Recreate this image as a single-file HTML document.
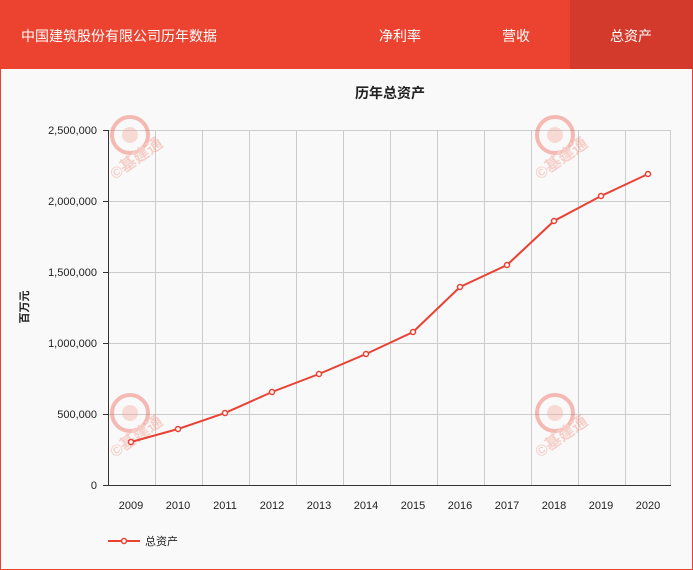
<!DOCTYPE html>
<html><head><meta charset="utf-8"><style>
body{margin:0;width:693px;height:570px;overflow:hidden;font-family:"Liberation Sans","Noto Sans CJK SC",sans-serif;}
.wrap{position:absolute;left:0;top:0;width:691px;height:569px;border:1px solid #ec4230;border-top:none;background:#f9f9f9;}
.hdr{position:absolute;left:0;top:0;width:693px;height:69px;background:#ec4230;color:#fff;font-size:14px;}
.hdr span{position:absolute;top:26px;}
.act{position:absolute;left:570px;top:0;width:123px;height:69px;background:#d33a2b;}
</style></head><body>
<div class="wrap"></div>
<div class="hdr"><div class="act"></div>
<span style="left:21px">中国建筑股份有限公司历年数据</span>
<span style="left:379px">净利率</span>
<span style="left:502px">营收</span>
<span style="left:610px">总资产</span></div>
<svg width="693" height="570" style="position:absolute;left:0;top:0" font-family="Liberation Sans, Noto Sans CJK SC, sans-serif">
<text x="390" y="98" font-size="14" font-weight="bold" text-anchor="middle" fill="#222">历年总资产</text>
<g stroke="#ccc" stroke-width="1">
<line x1="108" y1="130.5" x2="671" y2="130.5"/><line x1="108" y1="201.5" x2="671" y2="201.5"/>
<line x1="108" y1="272.5" x2="671" y2="272.5"/><line x1="108" y1="343.5" x2="671" y2="343.5"/>
<line x1="108" y1="414.5" x2="671" y2="414.5"/>
<g id="v"></g>
</g>
<g stroke="#ccc">
<line x1="155.5" y1="130" x2="155.5" y2="485"/><line x1="202.5" y1="130" x2="202.5" y2="485"/>
<line x1="249.5" y1="130" x2="249.5" y2="485"/><line x1="296.5" y1="130" x2="296.5" y2="485"/>
<line x1="343.5" y1="130" x2="343.5" y2="485"/><line x1="390.5" y1="130" x2="390.5" y2="485"/>
<line x1="437.5" y1="130" x2="437.5" y2="485"/><line x1="484.5" y1="130" x2="484.5" y2="485"/>
<line x1="531.5" y1="130" x2="531.5" y2="485"/><line x1="578.5" y1="130" x2="578.5" y2="485"/>
<line x1="625.5" y1="130" x2="625.5" y2="485"/><line x1="670.5" y1="130" x2="670.5" y2="485"/>
</g>
<g stroke="#333">
<line x1="108.5" y1="130" x2="108.5" y2="485"/><line x1="108" y1="485.5" x2="671" y2="485.5"/>
<line x1="103" y1="130.5" x2="108" y2="130.5"/><line x1="103" y1="201.5" x2="108" y2="201.5"/>
<line x1="103" y1="272.5" x2="108" y2="272.5"/><line x1="103" y1="343.5" x2="108" y2="343.5"/>
<line x1="103" y1="414.5" x2="108" y2="414.5"/><line x1="103" y1="485.5" x2="108" y2="485.5"/>
</g>
<g font-size="11" fill="#222" text-anchor="end">
<text x="97" y="134">2,500,000</text><text x="97" y="205">2,000,000</text><text x="97" y="276">1,500,000</text>
<text x="97" y="347">1,000,000</text><text x="97" y="418">500,000</text><text x="97" y="489">0</text>
</g>
<g font-size="11" fill="#222" text-anchor="middle">
<text x="131" y="509">2009</text><text x="178" y="509">2010</text><text x="225" y="509">2011</text><text x="272" y="509">2012</text>
<text x="319" y="509">2013</text><text x="366" y="509">2014</text><text x="413" y="509">2015</text><text x="460" y="509">2016</text>
<text x="507" y="509">2017</text><text x="554" y="509">2018</text><text x="601" y="509">2019</text><text x="648" y="509">2020</text>
</g>
<text transform="translate(28,307) rotate(-90)" font-size="11" font-weight="bold" text-anchor="middle" fill="#222">百万元</text>
<g opacity="0.35" fill="#f08070" font-size="16" font-weight="bold">
<g transform="translate(130,135)"><circle cx="0" cy="0" r="18" fill="none" stroke="#ec4230" stroke-width="4"/><circle r="8" fill="#f4a090"/><text x="-15" y="45" transform="rotate(-35 -15 45)">©基建通</text></g>
<g transform="translate(555,135)"><circle cx="0" cy="0" r="18" fill="none" stroke="#ec4230" stroke-width="4"/><circle r="8" fill="#f4a090"/><text x="-15" y="45" transform="rotate(-35 -15 45)">©基建通</text></g>
<g transform="translate(130,413)"><circle cx="0" cy="0" r="18" fill="none" stroke="#ec4230" stroke-width="4"/><circle r="8" fill="#f4a090"/><text x="-15" y="45" transform="rotate(-35 -15 45)">©基建通</text></g>
<g transform="translate(555,413)"><circle cx="0" cy="0" r="18" fill="none" stroke="#ec4230" stroke-width="4"/><circle r="8" fill="#f4a090"/><text x="-15" y="45" transform="rotate(-35 -15 45)">©基建通</text></g>
</g>
<polyline fill="none" stroke="#e94234" stroke-width="2" points="131,442 178,429 225,413 272,392 319,374 366,354 413,332 460,287 507,265 554,221 601,196 648,174"/>
<g fill="#fff" stroke="#e94234" stroke-width="1.5">
<circle cx="131" cy="442" r="2.5"/><circle cx="178" cy="429" r="2.5"/><circle cx="225" cy="413" r="2.5"/><circle cx="272" cy="392" r="2.5"/>
<circle cx="319" cy="374" r="2.5"/><circle cx="366" cy="354" r="2.5"/><circle cx="413" cy="332" r="2.5"/><circle cx="460" cy="287" r="2.5"/>
<circle cx="507" cy="265" r="2.5"/><circle cx="554" cy="221" r="2.5"/><circle cx="601" cy="196" r="2.5"/><circle cx="648" cy="174" r="2.5"/>
</g>
<line x1="108" y1="541" x2="140" y2="541" stroke="#e94234" stroke-width="2"/>
<circle cx="124" cy="541" r="2.5" fill="#fff" stroke="#e94234" stroke-width="1.5"/>
<text x="145" y="545" font-size="11" fill="#222">总资产</text>
</svg>
</body></html>
